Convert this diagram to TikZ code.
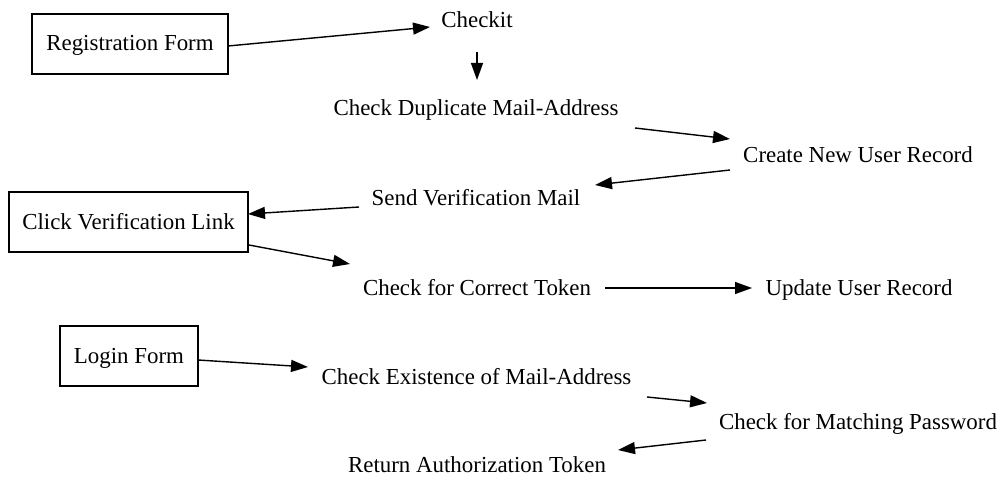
\documentclass[tikz,border=0pt]{standalone}
\usepackage{fontspec}
\setmainfont{Liberation Serif}
\usetikzlibrary{arrows.meta}
\begin{document}
\begin{tikzpicture}[x=1pt,y=-1pt,
  lbl/.style={anchor=base,inner sep=0pt,font=\fontsize{22.9}{27}\selectfont},
  boxnode/.style={draw,line width=1.2pt,minimum height=60pt,inner sep=0pt,text height=16pt,text depth=2pt,font=\fontsize{22.9}{27}\selectfont},
  arr/.style={line width=1.4pt,-{Triangle[length=17pt,width=12pt]}}]
\useasboundingbox (0,0) rectangle (1000,476);
\node[boxnode,minimum width=196pt] (reg) at (130,44) {Registration Form};
\node[lbl] (chk) at (477,28) {Checkit};
\node[lbl] (dup) at (476,115) {Check Duplicate Mail-Address};
\node[lbl] (cre) at (858,162) {Create New User Record};
\node[lbl] (send) at (476,205) {Send Verification Mail};
\node[boxnode,minimum width=239pt] (click) at (128.5,222) {Click Verification Link};
\node[lbl] (corr) at (477,295) {Check for Correct Token};
\node[lbl] (upd) at (859,295) {Update User Record};
\node[boxnode,minimum width=138pt] (login) at (129,356) {Login Form};
\node[lbl] (exist) at (476.5,384) {Check Existence of Mail-Address};
\node[lbl] (match) at (858,429) {Check for Matching Password};
\node[lbl] (ret) at (477,472) {Return Authorization Token};

\draw[arr] ([shift={(98,2)}]reg.center) -- ([shift={(-47,-1)}]chk.base);
\draw[arr] ([shift={(0,24)}]chk.base) -- ([shift={(1,-35)}]dup.base);
\draw[arr] ([shift={(159,13)}]dup.base) -- ([shift={(-128,-23)}]cre.base);
\draw[arr] ([shift={(-128,8)}]cre.base) -- ([shift={(119,-20)}]send.base);
\draw[arr] ([shift={(-117,2)}]send.base) -- ([shift={(119.5,-8)}]click.center);
\draw[arr] ([shift={(120.5,23)}]click.center) -- ([shift={(-127,-31)}]corr.base);
\draw[arr] ([shift={(128,-7)}]corr.base) -- ([shift={(-107,-7)}]upd.base);
\draw[arr] ([shift={(69,4)}]login.center) -- ([shift={(-168.5,-17)}]exist.base);
\draw[arr] ([shift={(170.5,13)}]exist.base) -- ([shift={(-151,-26)}]match.base);
\draw[arr] ([shift={(-152,11)}]match.base) -- ([shift={(141,-22)}]ret.base);
\end{tikzpicture}
\end{document}
